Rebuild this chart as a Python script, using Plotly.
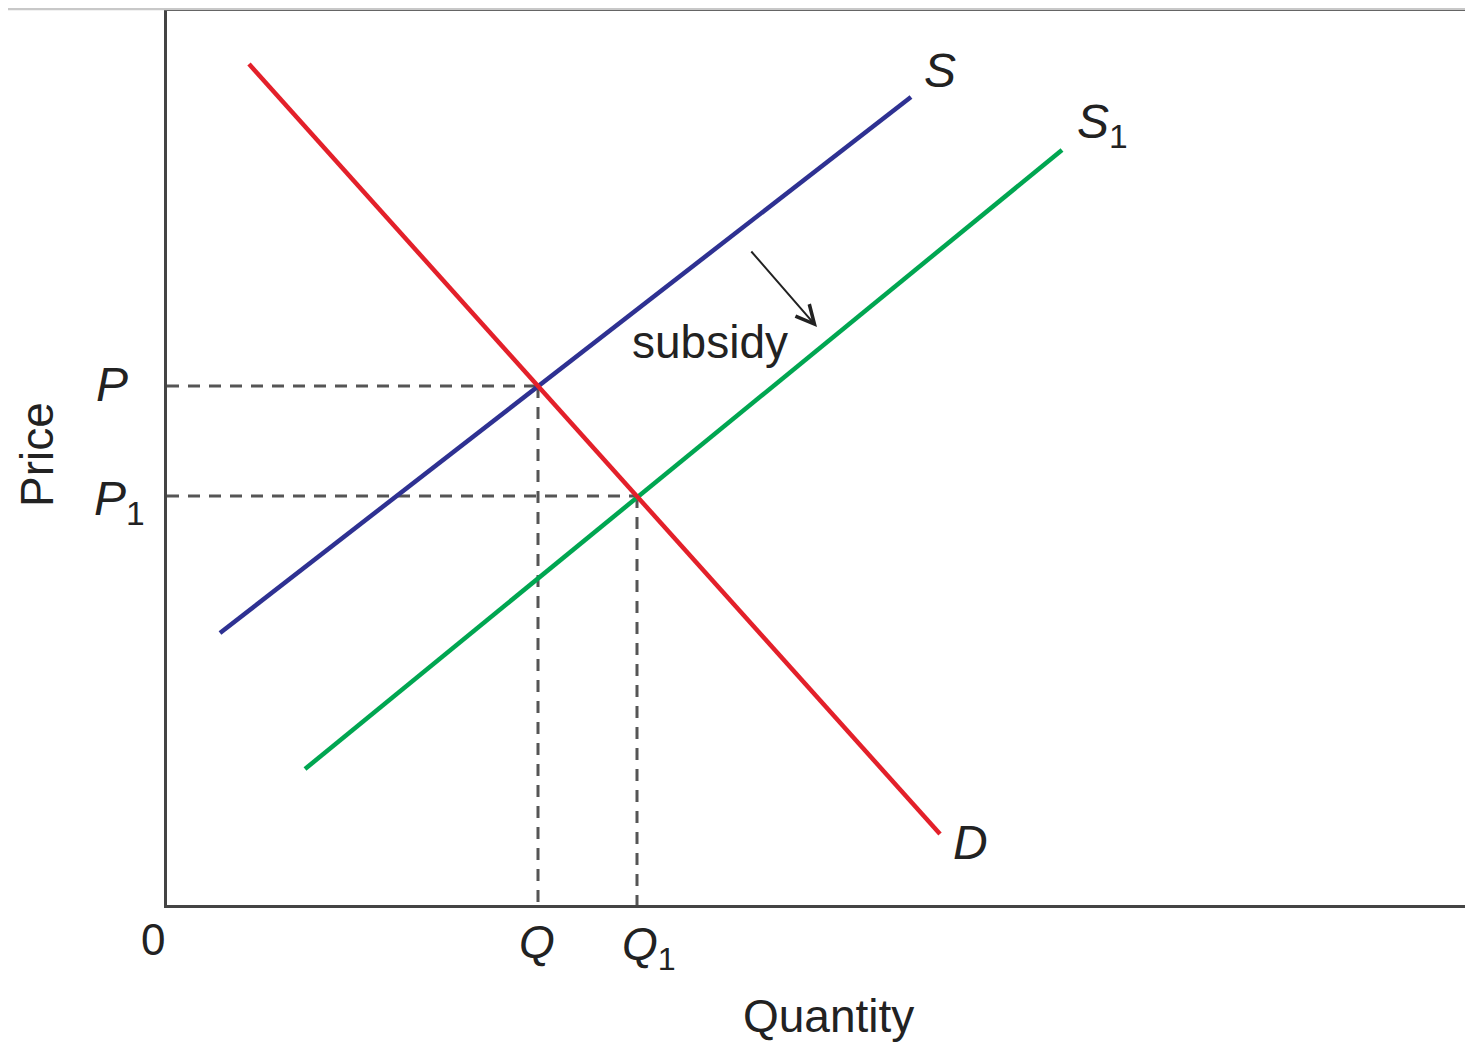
import plotly.graph_objects as go

# curve end points (quantity, price in chart units)
demand_q = [82, 773]
demand_p = [841, 71]
supply_q = [53, 744]
supply_p = [272, 808]
supply1_q = [138, 895]
supply1_p = [136, 755]

# equilibrium before and after the subsidy
eq_q = [371, 470]
eq_p = [519, 409]

# subsidy arrow (tail, head)
arrow_q = [583, 650]
arrow_p = [655, 578]

XMAX = 1298
YMAX = 894

FONT = "Liberation Sans, Arial, sans-serif"
TXT = "#222222"
DASH = dict(color="#555555", width=3, dash="12px,9px")

fig = go.Figure()

# dashed guide lines from each equilibrium to the axes
for q, p in zip(eq_q, eq_p):
    fig.add_trace(go.Scatter(x=[0, q], y=[p, p], mode="lines", line=DASH,
                             hoverinfo="skip"))
    fig.add_trace(go.Scatter(x=[q, q], y=[p, 0], mode="lines", line=DASH,
                             hoverinfo="skip"))

fig.add_trace(go.Scatter(x=supply_q, y=supply_p, mode="lines",
                         line=dict(color="#2e3192", width=4.5), name="S"))
fig.add_trace(go.Scatter(x=supply1_q, y=supply1_p, mode="lines",
                         line=dict(color="#00a651", width=4.5), name="S1"))
fig.add_trace(go.Scatter(x=demand_q, y=demand_p, mode="lines",
                         line=dict(color="#e3202a", width=4.5), name="D"))


def label(x, y, text, size=48, italic=False, xanchor="center", **kw):
    # positions given in chart units, placed in paper coords so they
    # still show outside the plotting area (anchors set explicitly,
    # 'auto' moves paper annotations around)
    if italic:
        text = "<i>" + text + "</i>"
    fig.add_annotation(x=x / XMAX, y=y / YMAX, xref="paper", yref="paper",
                       xanchor=xanchor, yanchor="middle",
                       text=text, showarrow=False,
                       font=dict(family=FONT, size=size, color=TXT), **kw)


# curve labels
label(773, 835, "S", italic=True)
label(908, 780, "<i>S</i><sub>1</sub>", xanchor="left")
label(803, 63, "D", italic=True)
label(543, 563, "subsidy", size=46)

# axis labels
label(-37, eq_p[0] + 2, "P", italic=True, xanchor="right")
label(-20, eq_p[1] - 6, "<i>P</i><sub>1</sub>", xanchor="right")
label(-14, -35, "0", size=44)
label(eq_q[0] - 1, -37, "Q", italic=True, size=46)
label(eq_q[1] - 17, -42, "<i>Q</i><sub>1</sub>", xanchor="left", size=46)
label(661, -111, "Quantity", size=46)
label(-130, 450, "Price", size=46, textangle=-90)

# subsidy arrow
fig.add_annotation(x=arrow_q[1], y=arrow_p[1], ax=arrow_q[0], ay=arrow_p[0],
                   xref="x", yref="y", axref="x", ayref="y", text="",
                   showarrow=True, arrowhead=5, arrowsize=1.8, arrowwidth=2,
                   arrowcolor="#222222")

# thin grey rule at the very top of the page
fig.add_shape(type="line", xref="paper", yref="paper",
              x0=-0.2, x1=1.0, y0=1.0025, y1=1.0025,
              line=dict(color="#c8c8c8", width=3))

fig.update_xaxes(range=[0, XMAX], showgrid=False, zeroline=False,
                 showticklabels=False, ticks="",
                 showline=True, linecolor="#444444", linewidth=3, mirror=True)
fig.update_yaxes(range=[0, YMAX], showgrid=False, zeroline=False,
                 showticklabels=False, ticks="",
                 showline=True, linecolor="#444444", linewidth=3, mirror=False)

fig.update_layout(width=1457, height=1034,
                  margin=dict(l=159, r=0, t=3, b=137),
                  plot_bgcolor="white", paper_bgcolor="white",
                  showlegend=False)

fig.write_html("out.html")
